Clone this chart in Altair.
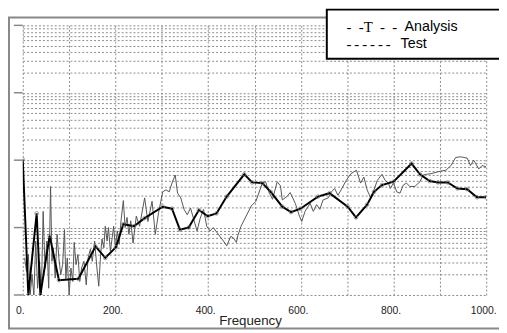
import altair as alt
import pandas as pd

# ---- data (frequency, log10 of response) ----
analysis_freq = [0, 12, 30, 38, 58, 78, 120, 157, 178, 201, 217, 240, 263, 302, 322, 339, 358,
                 380, 399, 418, 440, 478, 495, 517, 535, 560, 579, 599, 637, 662, 701, 719, 743,
                 758, 775, 800, 839, 857, 878, 896, 917, 938, 959, 980, 1000]
analysis_lvl = [-0.99, -3.0, -1.79, -3.0, -2.12, -2.78, -2.76, -2.28, -2.45, -2.29, -1.95, -1.98,
                -1.86, -1.69, -1.72, -2.03, -2.00, -1.74, -1.83, -1.79, -1.54, -1.21, -1.33, -1.34,
                -1.47, -1.69, -1.77, -1.72, -1.54, -1.49, -1.69, -1.85, -1.66, -1.47, -1.37, -1.32,
                -1.05, -1.21, -1.31, -1.33, -1.33, -1.42, -1.43, -1.55, -1.55]

test_freq = [4, 8, 12, 16, 20, 24, 28, 32, 36, 40, 44, 48, 52, 56, 60, 63, 66, 70, 74, 78,
             82, 86, 90, 93, 96, 100, 104, 108, 111, 115, 119, 123, 127, 132, 137, 141, 146, 150,
             155, 160, 164, 168, 171, 175, 178, 182, 185, 189, 193, 196, 200, 204, 208, 212, 217,
             221, 225, 229, 233, 238,
             245, 252, 263, 270, 279, 286, 293, 302, 309, 316, 322, 329, 334, 341, 348, 355, 362,
             369, 376, 383, 390, 397, 404, 411, 422, 433, 440, 449, 454, 461, 464, 471, 482, 493, 503,
             517, 524, 531, 539, 549, 556, 560, 570, 577, 588, 597, 602, 609, 620, 627, 634, 641,
             648, 659, 666, 673, 680, 687, 698, 708, 720, 729, 736, 743,
             750, 758, 765, 775, 782, 789, 793, 800, 807, 814, 821, 828, 835, 846, 857, 864, 871,
             881, 892, 903, 913, 924, 934, 945, 952, 959, 966, 973, 984, 991, 1000]
test_lvl = [-2.45, -2.65, -2.4, -3.0, -2.7, -3.0, -2.2, -2.9, -2.5, -3.0, -1.76, -2.6, -2.2, -2.9,
            -1.39, -2.5, -2.3, -2.75, -2.1, -2.46, -2.7, -2.55, -2.03, -2.76, -2.45, -3.0, -2.6,
            -2.8, -2.22, -2.55, -2.4, -2.8, -2.6, -2.5, -2.85, -2.45, -2.32, -2.5, -2.2, -2.6,
            -2.87, -2.4, -2.17, -2.3, -1.98, -2.2, -2.0, -2.35, -2.15, -1.98, -2.3, -2.05, -2.25,
            -1.9, -1.6, -2.0, -1.85, -2.1, -1.9, -2.23,
            -1.83, -1.98, -1.56, -1.91, -1.61, -2.10, -1.78, -1.47, -1.44, -1.47, -1.34, -1.22,
            -1.49, -1.56, -1.73, -1.81, -1.71, -1.88, -2.05, -1.86, -1.73, -1.98, -2.05, -2.0,
            -2.10, -2.20, -2.27, -2.13, -2.15, -2.22, -2.12, -1.98, -1.83, -1.68, -1.61,
            -1.34, -1.32, -1.47, -1.58, -1.32, -1.38, -1.59, -1.54, -1.48, -1.64, -1.83, -1.91,
            -1.76, -1.64, -1.76, -1.66, -1.73, -1.59, -1.56, -1.47, -1.42, -1.52, -1.44, -1.30,
            -1.20, -1.15, -1.34, -1.25, -1.44,
            -1.55, -1.44, -1.30, -1.21, -1.30, -1.34, -1.42, -1.34, -1.47, -1.49, -1.37, -1.34,
            -1.39, -1.39, -1.32, -1.22, -1.21, -1.20, -1.18, -1.16, -1.15, -1.08, -0.96, -0.95,
            -0.96, -0.97, -1.08, -1.0, -1.13, -1.08, -1.10]

x_ticks = [0, 100, 200, 300, 400, 500, 600, 700, 800, 900, 1000]
decades = [0.001, 0.01, 0.1, 1, 10]
minor_marks = [1, 2, 3, 4, 5, 6, 7, 8, 9]
legend_labels = ["Analysis", "Test"]
legend_symbols = ["-\u00a0\u00a0-T\u00a0\u00a0-\u00a0\u00a0-", "-\u2009-\u2009-\u2009-\u2009-\u2009-"]

y_grid = [round(m * d, 6) for d in decades[:-1] for m in minor_marks] + [decades[-1]]

df_a = pd.DataFrame({"f": analysis_freq, "v": [10 ** l for l in analysis_lvl]})
df_t = pd.DataFrame({"f": test_freq, "v": [10 ** l for l in test_lvl]})
df_dec = pd.DataFrame({"v": decades})
one = pd.DataFrame({"k": [0]})

x_enc = alt.X(
    "f:Q",
    scale=alt.Scale(domain=[0, 1000], nice=False, zero=False),
    axis=alt.Axis(
        values=x_ticks,
        labelExpr="datum.value % 200 == 0 ? datum.value + '.' : ''",
        grid=True, gridDash=[2, 2], gridColor="#8a8a8a", gridWidth=1,
        domain=False, ticks=False, tickSize=0,
        labelPadding=11, labelFontSize=10.5, labelFont="Liberation Sans", labelColor="#222",
        labelFlush=False, labelAlign="center", labelOffset=-3, labelBound=False,
        title="Frequency", titleFontSize=13.5, titleFont="Liberation Sans",
        titleFontWeight="normal", titlePadding=-2, titleColor="#222", titleX=231,
    ),
)
y_enc = alt.Y(
    "v:Q",
    scale=alt.Scale(type="log", domain=[0.001, 10], nice=False),
    axis=alt.Axis(
        values=y_grid, grid=True, gridDash=[2, 2], gridColor="#8a8a8a", gridWidth=1,
        labels=False, ticks=False, domain=False, title=None,
    ),
)

frame = alt.Chart(one).mark_rect(fill=None, stroke="#888888", strokeWidth=2).encode(
    x=alt.value(-14), x2=alt.value(505), y=alt.value(-8), y2=alt.value(308)
)

test_line = alt.Chart(df_t).mark_line(color="#555555", strokeWidth=1, clip=True).encode(
    x=x_enc, y=y_enc
)
ana_line = alt.Chart(df_a).mark_line(color="black", strokeWidth=2, clip=True).encode(
    x=x_enc, y=y_enc
)
ana_pts = alt.Chart(df_a).mark_point(
    shape="circle", size=14, color="#777777", strokeWidth=1, filled=False, clip=True
).encode(x=x_enc, y=y_enc)

dec_ticks = alt.Chart(df_dec).mark_rule(color="#888888", strokeWidth=1.5).encode(
    y=y_enc, x=alt.value(-9), x2=alt.value(0)
)

legend_box = alt.Chart(one).mark_rect(fill="white", stroke="black", strokeWidth=2).encode(
    x=alt.value(309), x2=alt.value(505), y=alt.value(-16), y2=alt.value(34)
)
leg_sym1 = alt.Chart(one).mark_text(
    align="left", baseline="middle", fontSize=15, font="Liberation Serif", color="black"
).encode(x=alt.value(329), y=alt.value(2), text=alt.value(legend_symbols[0]))
leg_sym2 = alt.Chart(one).mark_text(
    align="left", baseline="middle", fontSize=15, font="Liberation Serif", color="black"
).encode(x=alt.value(329), y=alt.value(19), text=alt.value(legend_symbols[1]))
leg_txt1 = alt.Chart(one).mark_text(
    align="left", baseline="middle", fontSize=14.5, font="Liberation Sans", color="black"
).encode(x=alt.value(388), y=alt.value(2), text=alt.value(legend_labels[0]))
leg_txt2 = alt.Chart(one).mark_text(
    align="left", baseline="middle", fontSize=14.5, font="Liberation Sans", color="black"
).encode(x=alt.value(384), y=alt.value(19), text=alt.value(legend_labels[1]))

chart = alt.layer(
    frame, test_line, ana_line, ana_pts, dec_ticks,
    legend_box, leg_sym1, leg_sym2, leg_txt1, leg_txt2,
).properties(
    width=471, height=274,
    autosize=alt.AutoSizeParams(type="none"),
    padding={"left": 15, "top": 15, "right": 13, "bottom": 36},
    background="white",
).configure_view(stroke=None)

chart.save("out.html", embed_options={"renderer": "svg", "actions": False})
